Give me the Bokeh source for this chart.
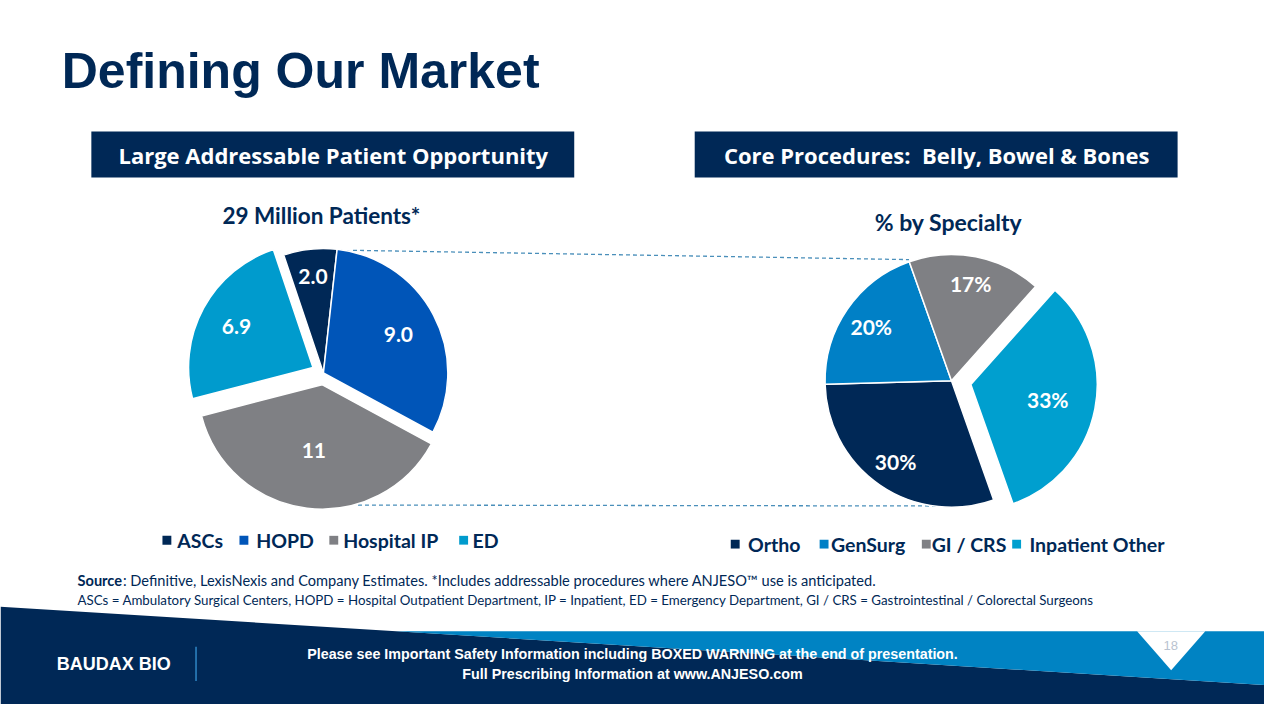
import math
from bokeh.plotting import figure
from bokeh.models import Range1d, ColumnDataSource
from bokeh.core.properties import value
from bokeh.embed import file_html
from bokeh.resources import INLINE

# ---------------- data ----------------
title_text = "Defining Our Market"
left_header = "Large Addressable Patient Opportunity"
right_header = "Core Procedures:\u00a0 Belly, Bowel & Bones"
left_subtitle = "29 Million Patients*"
right_subtitle = "% by Specialty"

left_categories = ["ASCs", "HOPD", "Hospital IP", "ED"]
left_values = [2.0, 9.0, 11.0, 6.9]
left_value_labels = ["2.0", "9.0", "11", "6.9"]

right_categories = ["Ortho", "GenSurg", "GI / CRS", "Inpatient Other"]
right_values = [30, 20, 17, 33]
right_value_labels = ["30%", "20%", "17%", "33%"]

source_bold = "Source"
source_rest = ": Definitive, LexisNexis and Company Estimates. *Includes addressable procedures where ANJESO\u2122 use is anticipated."
abbrev_text = ("ASCs = Ambulatory Surgical Centers, HOPD = Hospital Outpatient Department, IP = Inpatient, "
               "ED = Emergency Department, GI / CRS = Gastrointestinal / Colorectal Surgeons")
footer_lines = ["Please see Important Safety Information including BOXED WARNING at the end of presentation.",
                "Full Prescribing Information at www.ANJESO.com"]
page_number = "18"
logo_text = "BAUDAX BIO"

# ---------------- style / layout ----------------
NAVY = "#002856"
left_colors = [NAVY, "#0055B8", "#7F8084", "#009BCD"]
right_colors = [NAVY, "#0080C6", "#7F8084", "#009FCF"]
BAND = "#0083C3"
CAL = "Lato"
HEAD = "Open Sans"

W, H = 1264, 704


def Y(y):
    return 720 - y


p = figure(width=W, height=H, x_range=Range1d(0, 1280), y_range=Range1d(0, 720),
           output_backend="svg", toolbar_location=None, min_border=0)
p.axis.visible = False
p.grid.visible = False
p.outline_line_color = None
p.background_fill_color = "white"
p.border_fill_color = "white"


def txt(x, y, s, size, color, bold=True, align="left", font=CAL, baseline="middle"):
    p.text(x=[x], y=[Y(y)], text=[s], text_font=value(font), text_font_size=f"{size}px",
           text_font_style="bold" if bold else "normal", text_color=color,
           text_align=align, text_baseline=baseline)


# title
txt(62, 72, title_text, 50, NAVY, font="Liberation Sans")

# header boxes
p.quad(left=[92, 703], right=[581, 1192], top=[Y(134), Y(134)], bottom=[Y(181), Y(181)],
       fill_color=NAVY, line_color=None)
txt(337, 158, left_header, 22, "white", align="center", font=HEAD)
txt(948, 158, right_header, 22, "white", align="center", font=HEAD)

# subtitles
txt(325, 220, left_subtitle, 22.5, NAVY, align="center")
txt(960, 227, right_subtitle, 23, NAVY, align="center")

# connector dashed lines
dash_col = "#4A8FBA"
p.line(x=[357, 920], y=[Y(255.5), Y(265)], line_color=dash_col, line_width=1.3, line_dash="4 3")
p.line(x=[362, 962], y=[Y(516), Y(517)], line_color=dash_col, line_width=1.3, line_dash="4 3")


def pie(cx, cy, r, vals, labels, colors, start_cw, explode, label_frac):
    total = float(sum(vals))
    theta = start_cw
    xs, ys, sa, ea, lx, ly = [], [], [], [], [], []
    for v, e, f in zip(vals, explode, label_frac):
        span = v / total * 360.0
        a0, a1 = theta, theta + span
        mid = math.radians((a0 + a1) / 2)
        ox = cx + e * math.sin(mid)
        oy = cy - e * math.cos(mid)
        xs.append(ox)
        ys.append(Y(oy))
        sa.append(math.radians(90 - a0))
        ea.append(math.radians(90 - a1))
        lx.append(ox + f * r * math.sin(mid))
        ly.append(Y(oy - f * r * math.cos(mid)))
        theta = a1
    src = ColumnDataSource(dict(x=xs, y=ys, sa=sa, ea=ea, color=colors, lx=lx, ly=ly, lab=labels))
    p.wedge(x="x", y="y", radius=r, start_angle="sa", end_angle="ea", direction="clock",
            fill_color="color", line_color="white", line_width=1.5, source=src)
    p.text(x="lx", y="ly", text="lab", source=src, text_font=value(CAL), text_font_size="21px",
           text_font_style="bold", text_color="white", text_align="center", text_baseline="middle")


pie(327, 381, 126, left_values, left_value_labels, left_colors, -18.6,
    [0, 0, 12, 12], [0.79, 0.68, 0.54, 0.70])
pie(963, 389, 128, right_values, right_value_labels, right_colors, 160.5,
    [0, 0, 0, 20], [0.78, 0.77, 0.79, 0.62])

# legends
def legend(cats, colors, sq_x, tx_x, y):
    p.rect(x=sq_x, y=[Y(y)] * len(cats), width=9, height=9, fill_color=colors, line_color=None)
    p.text(x=tx_x, y=[Y(y)] * len(cats), text=cats, text_font=value(CAL), text_font_size="19.5px",
           text_font_style="bold", text_color=NAVY, text_align="left", text_baseline="middle")


legend(left_categories, left_colors, [168.5, 246.5, 337.5, 469], [179, 259, 347, 478], 552)
legend(right_categories, right_colors, [744, 834, 937.5, 1029], [757, 841, 943, 1042], 556)

# source notes
txt(78, 593, source_bold, 14.6, NAVY, bold=True)
txt(124, 593, source_rest, 14.6, NAVY, bold=False)
txt(78, 613, abbrev_text, 13.3, NAVY, bold=False)

# footer shapes
p.patch(x=[0, 1280, 1280, 0], y=[Y(620), Y(700), Y(720), Y(720)], fill_color=NAVY, line_color=None)
p.patch(x=[400, 1280, 1280], y=[Y(645), Y(645), Y(700)], fill_color=BAND, line_color=None)
p.patch(x=[1151, 1220, 1185.5], y=[Y(645), Y(645), Y(685)], fill_color="white", line_color=None)
txt(1185, 660, page_number, 13, "#B9C3D0", bold=False, align="center", font="Liberation Sans")

txt(57, 679, logo_text, 18, "white", font="Liberation Sans")
p.line(x=[198, 198], y=[Y(661), Y(696)], line_color="#2E86C6", line_width=1.5)

txt(640, 668, footer_lines[0], 14.3, "white", align="center", font="Liberation Sans")
txt(640, 689, footer_lines[1], 14.3, "white", align="center", font="Liberation Sans")

open("out.html", "w").write(file_html(p, INLINE))
